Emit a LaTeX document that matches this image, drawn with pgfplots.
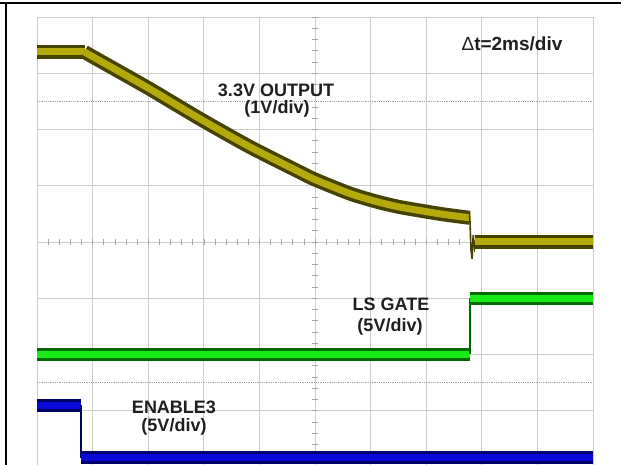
\documentclass[border=0pt]{standalone}
\usepackage{fontspec}
\setmainfont{Liberation Sans}
\usepackage{pgfplots}
\pgfplotsset{compat=1.18}

\definecolor{gridgray}{RGB}{205,205,205}
\definecolor{outcore}{RGB}{180,168,10}
\definecolor{outedge}{RGB}{70,66,0}
\definecolor{gatecore}{RGB}{25,235,25}
\definecolor{gateedge}{RGB}{0,105,0}
\definecolor{encore}{RGB}{10,10,215}
\definecolor{enedge}{RGB}{0,0,105}
\definecolor{txt}{RGB}{30,30,30}

\begin{document}
\begin{tikzpicture}[x=1pt,y=1pt]
% frame of the figure cell
\draw[black, line width=1.6pt] (0,462) -- (621,462);
\draw[black, line width=1.6pt] (6,0) -- (6,462.8);

\begin{axis}[
    at={(37pt,-2pt)}, anchor=south west,
    width=556pt, height=450pt, scale only axis,
    xmin=0, xmax=20, ymin=-4, ymax=4,
    xtick={0,2,...,20}, ytick={-4,-3,...,4},
    xticklabels={}, yticklabels={},
    major tick length=0pt,
    grid=major,
    grid style={gridgray, line width=0.7pt},
    axis line style={gridgray, line width=0.7pt},
    clip=true,
]
% dotted reference lines
\addplot[gridgray!80!black, densely dotted, line width=0.8pt] coordinates {(0,2.5) (20,2.5)};
\addplot[gridgray!80!black, densely dotted, line width=0.8pt] coordinates {(0,-2.5) (20,-2.5)};
% center axis small ticks
\pgfplotsinvokeforeach{0.4,0.8,...,19.7}{
  \draw[gray!70, line width=0.6pt] (axis cs:#1,-0.05) -- (axis cs:#1,0.05);
}
\pgfplotsinvokeforeach{-3.8,-3.6,...,3.9}{
  \draw[gray!70, line width=0.6pt] (axis cs:9.9,#1) -- (axis cs:10.1,#1);
}

% 3.3V OUTPUT trace (1V/div)
\addplot[outedge, line width=14pt, line join=round] coordinates {(0,3.38) (1.73,3.38)};
\addplot[outcore, line width=7pt] coordinates {(0,3.38) (1.73,3.38)};
\addplot[outedge, line width=14pt, smooth, tension=0.4] coordinates {
  (1.70,3.38) (2.09,3.27) (2.63,3.12) (4.06,2.72) (5.86,2.19)
  (7.66,1.69) (9.46,1.24) (10.0,1.11) (11.26,0.86) (12.2,0.72) (13.06,0.62)
  (14.50,0.50) (15.56,0.43)
};
\addplot[outcore, line width=7pt, smooth, tension=0.4] coordinates {
  (1.70,3.38) (2.09,3.27) (2.63,3.12) (4.06,2.72) (5.86,2.19)
  (7.66,1.69) (9.46,1.24) (10.0,1.11) (11.26,0.86) (12.2,0.72) (13.06,0.62)
  (14.50,0.50) (15.56,0.43)
};
\addplot[outedge, line width=1.6pt] coordinates {
  (15.56,0.52) (15.58,0.30) (15.61,-0.14) (15.65,-0.30) (15.69,0.12)
  (15.74,-0.10) (15.80,0.06) (15.86,0)
};
\addplot[outedge, line width=14pt] coordinates {(15.74,0) (20,0)};
\addplot[outcore, line width=7pt] coordinates {(15.74,0) (20,0)};

% LS GATE trace (5V/div)
\addplot[gateedge, line width=13pt] coordinates {(0,-2.0) (15.58,-2.0)};
\addplot[gatecore, line width=7pt] coordinates {(0,-2.0) (15.58,-2.0)};
\addplot[gateedge, line width=1.4pt] coordinates {(15.58,-2.0) (15.58,-1.0)};
\addplot[gateedge, line width=13pt] coordinates {(15.58,-1.0) (20,-1.0)};
\addplot[gatecore, line width=7pt] coordinates {(15.58,-1.0) (20,-1.0)};

% ENABLE3 trace (5V/div)
\addplot[enedge, line width=13pt] coordinates {(0,-2.9) (1.58,-2.9)};
\addplot[encore, line width=7pt] coordinates {(0,-2.9) (1.58,-2.9)};
\addplot[enedge, line width=1.4pt] coordinates {(1.58,-2.9) (1.58,-3.84)};
\addplot[enedge, line width=13pt] coordinates {(1.58,-3.84) (20,-3.84)};
\addplot[encore, line width=7pt] coordinates {(1.58,-3.84) (20,-3.84)};
\end{axis}

% labels
\node[txt, font=\fontsize{18}{20}\selectfont\bfseries] at (276,375) {3.3V OUTPUT};
\node[txt, font=\fontsize{18}{20}\selectfont\bfseries] at (277,356) {(1V/div)};
\node[txt, font=\fontsize{18}{20}\selectfont\bfseries] at (391,161) {LS GATE};
\node[txt, font=\fontsize{18}{20}\selectfont\bfseries] at (390,138) {(5V/div)};
\node[txt, font=\fontsize{18}{20}\selectfont\bfseries] at (174,58) {ENABLE3};
\node[txt, font=\fontsize{18}{20}\selectfont\bfseries] at (174,38) {(5V/div)};
\node[txt, font=\fontsize{19}{21}\selectfont] at (512,421) {Δ\textbf{t=2ms/div}};

\pgfresetboundingbox
\path[use as bounding box] (0,0) rectangle (621,465);
\end{tikzpicture}
\end{document}
